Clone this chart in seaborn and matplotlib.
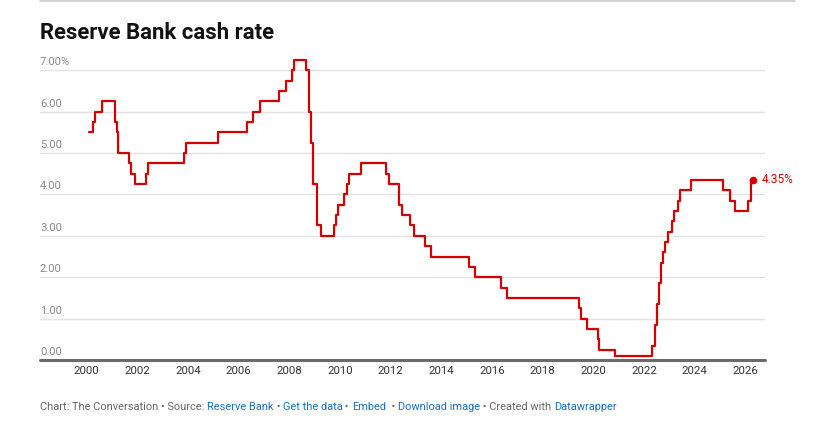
import matplotlib.pyplot as plt
import matplotlib.transforms as mtransforms
from matplotlib.lines import Line2D
import pandas as pd
import seaborn as sns

# dates the cash rate target changed, and the new rate (%)
CHANGE_DATES = [
    "2000-02-03", "2000-04-05", "2000-05-03", "2000-08-02", "2001-02-07",
    "2001-03-07", "2001-04-04", "2001-09-05", "2001-10-03", "2001-12-05",
    "2002-05-08", "2002-06-05", "2003-11-05", "2003-12-03", "2005-03-02",
    "2006-05-03", "2006-08-02", "2006-11-08", "2007-08-08", "2007-11-07",
    "2008-02-06", "2008-03-05", "2008-09-03", "2008-10-08", "2008-11-05",
    "2008-12-03", "2009-02-04", "2009-04-08", "2009-10-07", "2009-11-04",
    "2009-12-02", "2010-03-03", "2010-04-07", "2010-05-05", "2010-11-03",
    "2011-11-02", "2011-12-07", "2012-05-02", "2012-06-06", "2012-10-03",
    "2012-12-05", "2013-05-08", "2013-08-07", "2015-02-04", "2015-05-06",
    "2016-05-04", "2016-08-03", "2019-06-05", "2019-07-03", "2019-10-02",
    "2020-03-04", "2020-03-20", "2020-11-04", "2022-05-04", "2022-06-08",
    "2022-07-06", "2022-08-03", "2022-09-07", "2022-10-05", "2022-11-02",
    "2022-12-07", "2023-02-08", "2023-03-08", "2023-05-03", "2023-06-07",
    "2023-11-08", "2025-02-19", "2025-05-21", "2025-08-13", "2026-02-04",
    "2026-03-18", "2026-04-01",
]
CASH_RATE = [
    5.50, 5.75, 6.00, 6.25, 5.75,
    5.50, 5.00, 4.75, 4.50, 4.25,
    4.50, 4.75, 5.00, 5.25, 5.50,
    5.75, 6.00, 6.25, 6.50, 6.75,
    7.00, 7.25, 7.00, 6.00, 5.25,
    4.25, 3.25, 3.00, 3.25, 3.50,
    3.75, 4.00, 4.25, 4.50, 4.75,
    4.50, 4.25, 3.75, 3.50, 3.25,
    3.00, 2.75, 2.50, 2.25, 2.00,
    1.75, 1.50, 1.25, 1.00, 0.75,
    0.50, 0.25, 0.10, 0.35, 0.85,
    1.35, 1.85, 2.35, 2.60, 2.85,
    3.10, 3.35, 3.60, 3.85, 4.10,
    4.35, 4.10, 3.85, 3.60, 3.85,
    4.10, 4.35,
]
LAST_DATE = "2026-04-28"

YEAR_TICKS = list(range(2000, 2027, 2))
RATE_TICKS = [0, 1, 2, 3, 4, 5, 6, 7]
RATE_LABELS = ["0.00", "1.00", "2.00", "3.00", "4.00", "5.00", "6.00", "7.00%"]

RED = "#d40000"
BLUE = "#1c6fbf"
GREY = "#666666"

sns.set_style("white")
plt.rcParams['font.family'] = ['Roboto', 'DejaVu Sans']


def to_year(ts):
    days = 366 if ts.is_leap_year else 365
    return ts.year + (ts.dayofyear - 1) / days


df = pd.DataFrame({
    'date': pd.to_datetime(CHANGE_DATES + [LAST_DATE]),
    'rate': CASH_RATE + [CASH_RATE[-1]],
})
df['year'] = df['date'].map(to_year)

W, H = 817, 436
fig = plt.figure(figsize=(W / 100, H / 100), dpi=100)
ax = fig.add_axes([40 / W, 76 / H, 725 / W, 302.2 / H])

for v in RATE_TICKS[1:]:
    ax.axhline(v, color="#e3e3e3", lw=1.0, zorder=1)
ax.axhline(0, color="#6b6b6b", lw=2.2, zorder=2, clip_on=False)

sns.lineplot(data=df, x='year', y='rate', drawstyle='steps-post', color=RED,
             lw=1.6, sort=False, estimator=None, ax=ax, zorder=3)

last = df.iloc[-1]
ax.plot([last['year']], [last['rate']], 'o', color=RED, ms=4.5, zorder=4, clip_on=False)
ax.annotate(f"{CASH_RATE[-1]:.2f}%", xy=(last['year'], last['rate']), xytext=(6, 0),
            textcoords='offset points', va='center', ha='left', color=RED, fontsize=8.5)

ax.set_xlim(1998.156, 2026.78)
ax.set_ylim(0, 7.3)
ax.set_xticks(YEAR_TICKS)
ax.set_xticklabels([str(y) for y in YEAR_TICKS])
ax.tick_params(axis='x', length=0, pad=4, labelsize=8.2, labelcolor="#333333")
ax.set_yticks([])
ax.set_xlabel("")
ax.set_ylabel("")
for s in ax.spines.values():
    s.set_visible(False)

trans = mtransforms.blended_transform_factory(ax.transAxes, ax.transData)
trans = mtransforms.offset_copy(trans, fig=fig, x=0, y=3, units='dots')
for v, lab in zip(RATE_TICKS, RATE_LABELS):
    ax.text(0, v, lab, transform=trans, ha='left', va='bottom', fontsize=8.1, color="#8a8a8a")

fig.text(40 / W, 1 - 39 / H, "Reserve Bank cash rate", fontsize=15.9, fontweight='bold',
         color="#111111", ha='left', va='baseline')

fig.add_artist(Line2D([40 / W, 795 / W], [1 - 0.8 / H, 1 - 0.8 / H], color="#c8c8c8", lw=1.2))

# footer, pieces chained one after the other
pieces = [
    ("Chart: The Conversation • Source: ", GREY),
    ("Reserve Bank", BLUE),
    (" • ", GREY),
    ("Get the data", BLUE),
    (" • ", GREY),
    ("Embed", BLUE),
    ("  • ", GREY),
    ("Download image", BLUE),
    (" • Created with ", GREY),
    ("Datawrapper", BLUE),
]
prev = fig.text(40 / W, 1 - 410 / H, pieces[0][0], fontsize=7.9, color=pieces[0][1],
                ha='left', va='baseline')
for txt, col in pieces[1:]:
    prev = ax.annotate(txt, xy=(1, 0), xycoords=prev, fontsize=7.9, color=col,
                       ha='left', va='bottom', annotation_clip=False)

fig.savefig("out.png", dpi=100)
